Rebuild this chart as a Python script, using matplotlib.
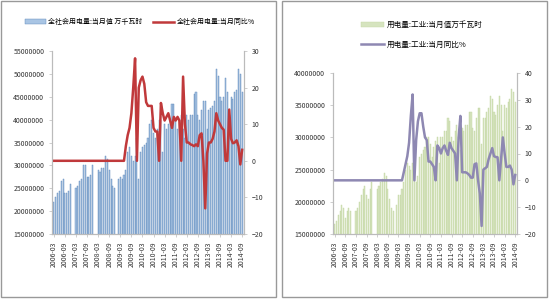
import matplotlib.pyplot as plt
import numpy as np
from matplotlib.patches import Rectangle
from matplotlib.ticker import FuncFormatter

plt.rcParams['font.family'] = ['Noto Sans CJK SC', 'DejaVu Sans']

# months 2006-03 .. 2014-09
months = []
for y in range(2006, 2015):
    for m in range(1, 13):
        if (y == 2006 and m < 3) or (y == 2014 and m > 9):
            continue
        months.append("%d-%02d" % (y, m))
tick_idx = list(range(0, len(months), 6))
tick_labels = [months[i] for i in tick_idx]

# 全社会用电量 当月值 (millions of 万千瓦时)
total_vals = [22, 23, 24, 24.5, 26.5, 27, 24, 24, 24.5, 26,
              0, 0, 25, 25.5, 26.5, 27, 30, 30, 27.5, 27.5, 28, 30,
              0, 0, 29, 28.5, 29.5, 29.5, 32, 31.5, 29, 27, 25.5, 25,
              0, 27, 27.5, 27, 28, 29, 33, 34, 32, 31, 32, 36,
              27, 33, 34, 34.5, 35, 36, 39, 40, 37, 36, 38, 40,
              40, 33, 39, 38, 39, 40, 43.5, 43.5, 40, 38, 40, 41,
              38, 36, 41, 40, 41, 41, 45.5, 46, 41, 40, 42, 44,
              44, 38, 42, 42.5, 43, 44, 51, 49.5, 45, 44, 45, 49,
              46, 41, 45, 44.5, 46, 46.5, 51, 50, 46]
# 全社会用电量 当月同比 %
total_yoy = [0] * 39 + [4, 7, 9, 13, 20, 28, 0,
             20, 22, 23, 21, 16, 15, 15, 15, 9, 8, 8, 0,
             15.8, 13, 11, 12, 13, 11, 9, 12, 11, 12, 11, 0,
             23, 10, 5, 5, 4.5, 4.3, 4, 4.5, 4, 7, 7.5, 0,
             -13, 2, 5, 5, 6, 8, 13, 11, 10, 9, 8.5, 0,
             0, 14, 6, 4.8, 5, 5.6, 4, -1, 3]

# 用电量:工业 当月值 (millions of 万千瓦时)
ind_vals = [16.5, 17, 18, 18.5, 19.5, 19, 17.5, 18.5, 19, 18.5,
            0, 0, 18.5, 19, 20, 21, 22, 22.5, 21, 20.5, 22, 23,
            0, 0, 22, 22.5, 23, 23.5, 24.5, 24, 22, 20.5, 19, 18.5,
            0, 19.5, 21, 21, 22, 23, 25, 26, 25.5, 25, 26, 28,
            23, 24, 27, 27.5, 28, 28.5, 30, 30, 29, 27, 28.5, 29.5,
            30, 26, 30, 30, 31, 31, 33, 32.5, 30, 29.5, 31, 32,
            30, 28, 31.5, 31, 32, 32, 34, 34, 31.5, 31, 33, 34.5,
            34.5, 29, 33, 33, 34, 34.5, 36.5, 36, 34, 33.5, 35, 36.5,
            35, 31, 35, 34.5, 35.5, 36, 37.5, 37, 35.5]
# 用电量:工业 当月同比 %
ind_yoy = [0] * 39 + [3, 6, 9, 14, 24, 32, 0,
           15, 22, 25, 25, 20, 16, 15, 7, 7, 6, 5, 0,
           13, 12, 10, 12, 13, 11, 9.5, 14, 12, 11, 10, 0,
           16, 24, 3, 3, 3, 2.6, 2, 1, 1, 6, 6.3, 0,
           -5, -17, 4, 4.5, 5, 8, 10, 12, 9, 8.7, 8.6, 0,
           8, 16, 10, 5, 5, 5.5, 4, -1.5, 2]

x = np.arange(len(months))
fmt = FuncFormatter(lambda v, p: "%d" % round(v * 1e6))

fig = plt.figure(figsize=(5.5, 3), dpi=100)
fig.patches.append(Rectangle((1 / 550, 3 / 300), 275 / 550, 296 / 300, transform=fig.transFigure,
                             fill=False, ec="#999999", lw=1))
fig.patches.append(Rectangle((282 / 550, 3 / 300), 265 / 550, 296 / 300, transform=fig.transFigure,
                             fill=False, ec="#999999", lw=1))


def style(ax, ax2):
    for a in (ax, ax2):
        a.spines["top"].set_visible(False)
        for s in ("left", "right", "bottom"):
            a.spines[s].set_color("#bbbbbb")
        a.tick_params(colors="#333333", labelsize=5, length=2, width=0.5)
        a.tick_params(axis="both", color="#bbbbbb")
    ax.set_xticks(tick_idx)
    ax.set_xticklabels(tick_labels, rotation=90, fontsize=5)
    ax.set_xlim(-1, len(months))
    ax.yaxis.set_major_formatter(fmt)


# left chart
ax = fig.add_axes([52 / 550, 1 - 234 / 300, 192 / 550, 183 / 300])
ax2 = ax.twinx()
b1 = ax.bar(x, total_vals, width=0.6, color="#a9c5e4", edgecolor="#5b86b8", lw=0.3,
            label="全社会用电量:当月值 万千瓦时")
l1, = ax2.plot(x, total_yoy, color="#c0393b", lw=1.8, label="全社会用电量:当月同比%")
ax.set_ylim(15, 55)
ax.set_yticks(np.arange(15, 56, 5))
ax2.set_ylim(-20, 30)
ax2.set_yticks(np.arange(-20, 31, 10))
style(ax, ax2)
fig.legend([b1, l1], [b1.get_label(), l1.get_label()], loc="center", bbox_to_anchor=(140 / 550, 1 - 22 / 300),
           ncol=2, frameon=False, fontsize=5, handlelength=3, columnspacing=1.5, handletextpad=0.4)

# right chart
bx = fig.add_axes([333 / 550, 1 - 234 / 300, 184 / 550, 161 / 300])
bx2 = bx.twinx()
b2 = bx.bar(x, ind_vals, width=0.6, color="#d6e4bf", edgecolor="#c3d6a3", lw=0.3,
            label="用电量:工业:当月值万千瓦时")
l2, = bx2.plot(x, ind_yoy, color="#8e88b2", lw=1.8, label="用电量:工业:当月同比%")
bx.set_ylim(15, 40)
bx.set_yticks(np.arange(15, 41, 5))
bx2.set_ylim(-20, 40)
bx2.set_yticks(np.arange(-20, 41, 10))
style(bx, bx2)
fig.legend([b2, l2], [b2.get_label(), l2.get_label()], loc="center", bbox_to_anchor=(422 / 550, 1 - 35 / 300),
           ncol=1, frameon=False, fontsize=5.5, handlelength=3, labelspacing=1.6, handletextpad=0.4)

fig.savefig("out.png", dpi=100)
